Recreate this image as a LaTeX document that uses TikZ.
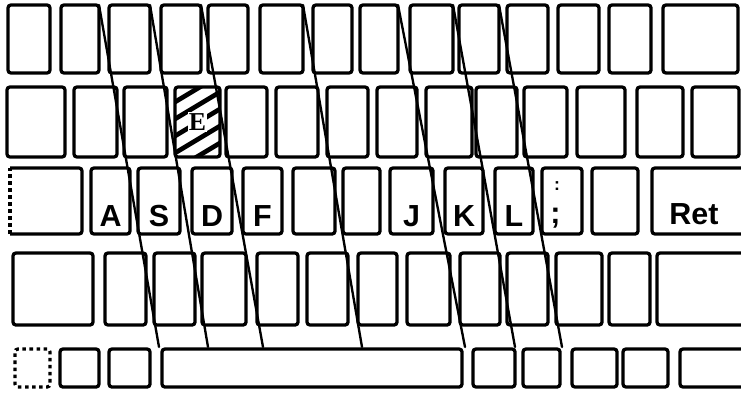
\documentclass[tikz,border=0pt]{standalone}
\usepackage{fontspec}
\setmainfont{Liberation Sans}
\newfontfamily\keyserif{Liberation Serif}
\usetikzlibrary{fit,positioning}

\begin{document}
\begin{tikzpicture}[x=0.03cm,y=-0.03cm,
  every node/.style={font=\bfseries\fontsize{26}{28}\selectfont},
  key/.style={draw,line width=2.8pt,rounded corners=2.5pt,inner sep=0pt,outer sep=0pt},
  guide/.style={line width=2pt,line cap=round},
  hatch/.style={line width=4pt},
  lab/.style={inner sep=1pt}]
\useasboundingbox (0,0) rectangle (741,392);
\foreach \a/\b [count=\i] in {8/50,61/99,109/150,161/201,208/248,260/303,313/352,360/398,410/453,459/499,507/548,558/599,609/651,663/738}
  \node[key,fit={(\a,5) (\b,73)}] (r1-\i) {};
\foreach \a/\b [count=\i] in {7/65,74/117,124/167,175/220,226/267,276/318,327/368,377/417,426/472,476/517,524/567,577/625,637/683,692/739}
  \node[key,fit={(\a,87) (\b,157)}] (r2-\i) {};
\node[key,draw=none,fit={(10,168) (82,234)}] (r3-1) {};
\draw[key] (r3-1.north west) -- (r3-1.north east) -- (r3-1.south east) -- (r3-1.south west);
\draw[key,dashed] (r3-1.south west) -- (r3-1.north west);
\foreach \a/\b [count=\i from 2] in {91/130,138/180,192/232,243/282,293/335,343/380,390/433,445/483,495/533,542/582,592/638,652/750}
  \node[key,fit={(\a,168) (\b,234)}] (r3-\i) {};
\foreach \a/\b [count=\i] in {13/93,105/146,154/195,202/246,257/298,307/348,358/397,407/450,460/500,507/548,556/602,609/650,657/750}
  \node[key,fit={(\a,253) (\b,325)}] (r4-\i) {};
\node[key,dashed,fit={(15,349) (50,387)}] (r5-1) {};
\foreach \a/\b [count=\i from 2] in {60/99,109/150,162/462,473/515,523/560,572/617,623/668,680/750}
  \node[key,fit={(\a,349) (\b,387)}] (r5-\i) {};

\begin{scope}
\clip[rounded corners=2pt] (r2-4.north west) rectangle (r2-4.south east);
\foreach \s in {105,122,139,156,173,190}
  \draw[hatch] (170,\s) -- +(60,-36);
\end{scope}
\node[lab,fill=white,font=\keyserif\bfseries\fontsize{22}{24}\selectfont] (lE) at (r2-4.center) {E};

\foreach \n/\t in {2/A,3/S,4/D,5/F,8/J,9/K,10/L}
  \node[lab] (l\t) at ([yshift=-0.45cm]r3-\n.center) {\t};
\node[lab] (lRet) at ([xshift=-0.21cm,yshift=-0.38cm]r3-13.center) {Ret};
\node[lab,font=\bfseries\fontsize{15}{17}\selectfont] (lcolon) at ([xshift=-0.15cm,yshift=0.45cm]r3-11.center) {:};
\node[lab] (lsemi) at ([xshift=-0.2cm,yshift=-0.5cm]r3-11.center) {;};

\foreach \x [count=\i] in {159,208,263,362,465,515,562}
  \coordinate (g\i) at (\x,347);
\foreach \n [count=\i] in {2,3,4,6,8,9,10}
  \draw[guide] (r1-\n.north east) -- (g\i);
\end{tikzpicture}
\end{document}
